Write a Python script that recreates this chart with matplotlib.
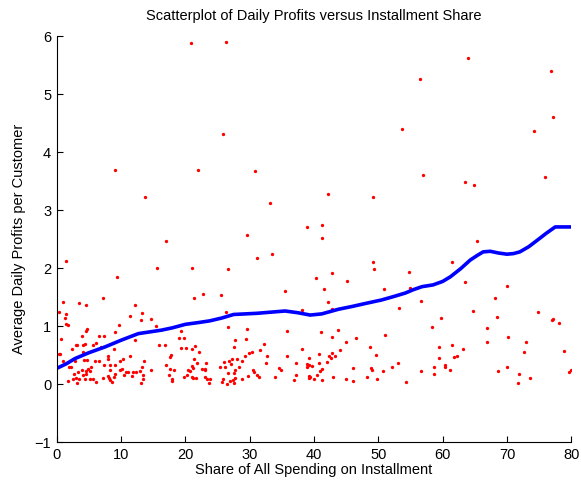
import matplotlib
matplotlib.use("Agg")
import matplotlib.pyplot as plt

# customer points: installment share (%) vs average daily profit
share = [
    # 0-20
    7.15, 0.93, 3.42, 4.61, 12.18, 0.31, 1.40, 13.32, 1.34, 11.45, 13.16, 14.67,
    1.50, 1.71, 9.64, 15.50, 4.71, 4.61, 9.12, 0.67, 3.88, 6.63, 7.31, 19.28,
    19.02, 19.85, 12.23, 6.16, 5.70, 4.45, 3.00, 3.21, 4.09, 6.89, 19.38, 15.96,
    16.84, 2.43, 8.86, 4.14, 0.36, 0.57, 0.98, 2.85, 4.30, 4.71, 11.45, 8.03,
    8.03, 10.31, 17.78, 17.67, 5.96, 6.58, 9.85, 13.63, 1.91, 2.23, 5.34, 7.41,
    8.24, 9.07, 17.00, 3.88, 4.92, 5.13, 4.51, 9.90, 10.16, 14.62, 17.57, 10.78,
    11.14, 2.64, 3.37, 4.56, 8.24, 9.07, 11.92, 12.39, 13.22, 13.01, 18.19, 4.09,
    11.76, 13.37, 8.97, 10.47, 17.47, 2.59, 2.95, 3.52, 4.45, 5.13, 5.60, 7.20,
    7.98, 8.13, 8.66, 8.34, 6.16, 1.76, 3.21, 13.42, 13.16, 17.88, 17.99, 19.80,
    # 19-39
    21.36, 22.81, 25.50, 35.51, 26.28, 38.10, 26.65, 29.65, 35.87, 27.79, 29.50,
    20.11, 21.10, 21.56, 22.14, 27.58, 32.30, 31.62, 38.15, 30.43, 29.86, 29.29,
    32.71, 35.82, 39.29, 21.31, 28.10, 26.80, 27.22, 28.87, 32.50, 26.07, 21.77,
    23.28, 37.27, 38.88, 20.99, 25.45, 26.18, 27.11, 28.30, 21.20, 22.65, 23.07,
    34.52, 34.94, 39.19, 20.42, 20.74, 23.02, 27.68, 30.59, 30.69, 26.59, 27.63,
    29.76, 31.10, 31.41, 37.17, 39.19, 20.32, 21.05, 21.25, 21.62, 23.12, 23.43,
    23.79, 23.69, 25.82, 25.66, 26.49, 26.96, 27.48, 27.68, 27.63, 28.82, 33.95,
    36.96, 39.35,
    # 39-59
    41.57, 50.85, 55.00, 42.20, 56.56, 42.87, 53.29, 41.06, 43.70, 42.77, 46.50,
    50.96, 58.42, 44.98, 48.73, 44.01, 49.71, 40.85, 42.87, 42.35, 42.66, 43.29,
    40.85, 41.99, 53.03, 39.66, 38.98, 41.32, 40.95, 46.09, 48.88, 48.94, 52.10,
    50.70, 56.56, 58.73, 40.49, 39.29, 40.02, 41.21, 42.92, 45.05, 46.03, 48.31,
    49.87, 54.28, 58.58,
    # 58-80
    69.98, 68.17, 64.75, 74.86, 59.82, 68.43, 76.98, 77.19, 78.02, 66.87, 70.14,
    66.82, 72.89, 59.46, 61.53, 63.24, 72.58, 78.85, 59.51, 61.74, 62.21, 60.39,
    60.34, 61.22, 68.64, 70.04, 71.90, 73.56, 71.64, 79.63, 79.90,
    # high-profit customers
    20.9, 26.3, 25.8, 9.07, 21.9, 30.9, 13.8, 33.1, 38.9, 29.6, 17.0, 33.5, 31.1,
    1.4, 15.6, 21.0, 26.7, 9.4,
    64.0, 76.9, 56.5, 77.2, 53.7, 74.2, 57.0, 75.9, 63.4, 64.8, 42.1, 49.2, 41.3,
    41.3, 65.3, 49.1, 61.4, 49.3, 42.8, 54.8, 40.3, 45.2, 63.5,
]
profit = [
    1.49, 1.41, 1.40, 1.36, 1.36, 1.25, 1.21, 1.22, 1.14, 1.18, 1.11, 1.12,
    1.03, 1.01, 1.01, 1.00, 0.95, 0.92, 0.90, 0.77, 0.83, 0.83, 0.83, 0.91,
    0.80, 0.80, 0.76, 0.71, 0.68, 0.69, 0.67, 0.67, 0.68, 0.64, 0.63, 0.67,
    0.67, 0.60, 0.61, 0.56, 0.51, 0.51, 0.40, 0.39, 0.41, 0.41, 0.48, 0.48,
    0.43, 0.44, 0.50, 0.46, 0.40, 0.40, 0.39, 0.39, 0.30, 0.30, 0.30, 0.33,
    0.33, 0.32, 0.32, 0.25, 0.26, 0.23, 0.23, 0.25, 0.26, 0.25, 0.26, 0.20,
    0.21, 0.18, 0.20, 0.18, 0.24, 0.18, 0.20, 0.21, 0.29, 0.22, 0.24, 0.15,
    0.14, 0.16, 0.13, 0.15, 0.15, 0.09, 0.10, 0.09, 0.08, 0.08, 0.09, 0.10,
    0.14, 0.11, 0.04, 0.07, 0.03, 0.05, 0.01, 0.09, 0.01, 0.09, 0.05, 0.12,
    1.48, 1.55, 1.53, 1.60, 1.25, 1.28, 0.98, 0.95, 0.91, 0.76, 0.78,
    0.62, 0.60, 0.66, 0.55, 0.64, 0.69, 0.58, 0.60, 0.56, 0.53, 0.49,
    0.49, 0.48, 0.45, 0.44, 0.44, 0.40, 0.43, 0.39, 0.37, 0.38, 0.36,
    0.37, 0.36, 0.34, 0.31, 0.29, 0.29, 0.35, 0.29, 0.28, 0.26, 0.26,
    0.27, 0.25, 0.33, 0.24, 0.22, 0.24, 0.24, 0.24, 0.21, 0.19, 0.19,
    0.14, 0.15, 0.12, 0.15, 0.14, 0.16, 0.13, 0.10, 0.10, 0.13, 0.09,
    0.09, 0.02, 0.09, 0.04, 0.00, 0.05, 0.07, 0.11, 0.01, 0.09, 0.12,
    0.07, 0.13,
    1.64, 1.64, 1.65, 1.41, 1.44, 1.30, 1.32, 0.89, 0.94, 0.82, 0.79,
    0.84, 0.98, 0.72, 0.64, 0.58, 0.50, 0.52, 0.53, 0.48, 0.45, 0.49,
    0.37, 0.38, 0.37, 0.31, 0.30, 0.26, 0.23, 0.28, 0.27, 0.24, 0.30,
    0.23, 0.22, 0.29, 0.16, 0.11, 0.08, 0.07, 0.13, 0.09, 0.05, 0.13,
    0.09, 0.03, 0.17,
    1.69, 1.48, 1.26, 1.24, 1.14, 1.16, 1.10, 1.12, 1.05, 0.97, 0.82,
    0.73, 0.73, 0.64, 0.68, 0.60, 0.55, 0.57, 0.45, 0.47, 0.48, 0.33,
    0.29, 0.25, 0.23, 0.29, 0.17, 0.10, 0.02, 0.21, 0.25,
    5.88, 5.90, 4.32, 3.69, 3.70, 3.67, 3.22, 3.13, 2.71, 2.57, 2.47, 2.24, 2.18,
    2.13, 2.01, 2.00, 1.99, 1.84,
    5.62, 5.40, 5.26, 4.60, 4.40, 4.36, 3.60, 3.57, 3.48, 3.44, 3.28, 3.23, 2.75,
    2.52, 2.46, 2.11, 2.10, 1.99, 1.92, 1.93, 1.83, 1.78, 1.76,
]

# smoothed trend
trend_x = [0, 1.5, 2.85, 5, 7.5, 10.1, 12.7, 14.5, 16.3, 18, 20, 22, 23.8, 25.7,
           27.5, 29.3, 31.1, 33.3, 35.5, 37.5, 39.4, 41.2, 42.5, 43.8, 46, 48,
           50.5, 52.4, 54.2, 55.5, 56.8, 58.5, 60, 61.2, 62.8, 64.3, 65.4, 66.3,
           67.4, 68.7, 70, 71, 72, 73.4, 74.7, 76.1, 77.5, 78.8, 80]
trend_y = [0.27, 0.35, 0.44, 0.54, 0.64, 0.76, 0.87, 0.90, 0.93, 0.97, 1.03, 1.06,
           1.09, 1.14, 1.20, 1.21, 1.22, 1.24, 1.26, 1.23, 1.19, 1.21, 1.25, 1.29,
           1.34, 1.39, 1.45, 1.51, 1.57, 1.63, 1.68, 1.71, 1.77, 1.85, 1.99, 2.14,
           2.22, 2.28, 2.29, 2.26, 2.24, 2.25, 2.28, 2.37, 2.48, 2.60, 2.71, 2.71,
           2.71]

plt.rcParams['font.family'] = ['Liberation Sans', 'DejaVu Sans']

fig = plt.figure(figsize=(5.81, 4.86), dpi=100)
ax = fig.add_axes([0.0976, 0.0905, 0.8857, 0.835])

ax.plot(share, profit, 'o', color='red', markersize=2.4, markeredgewidth=0)
ax.plot(trend_x, trend_y, color='blue', linewidth=2.6,
        solid_capstyle='round', solid_joinstyle='round')

ax.set_xlim(0, 80)
ax.set_ylim(-1, 6)
ax.set_xticks(range(0, 81, 10))
ax.set_yticks(range(-1, 7))
ax.spines['top'].set_visible(False)
ax.spines['right'].set_visible(False)
ax.tick_params(direction='in', length=4, labelsize=10.5, width=0.8, pad=4)

ax.set_xlabel('Share of All Spending on Installment', fontsize=10.5, labelpad=1)
ax.set_ylabel('Average Daily Profits per Customer', fontsize=10.5, labelpad=6)
ax.set_title('Scatterplot of Daily Profits versus Installment Share', fontsize=10.5, pad=12)

fig.savefig('out.png', dpi=100)
